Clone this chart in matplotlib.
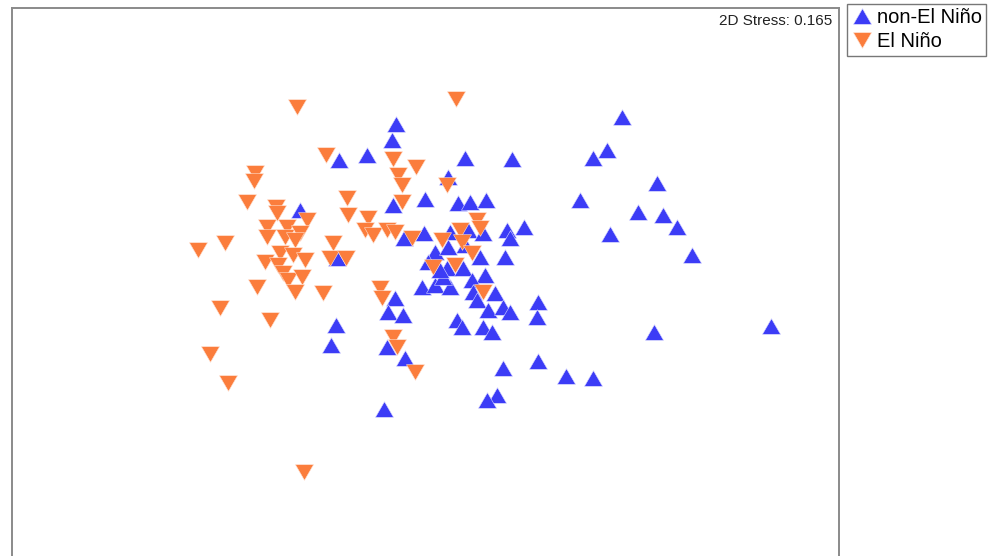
import matplotlib
matplotlib.use("Agg")
import matplotlib.pyplot as plt
import numpy as np

plt.rcParams['font.family'] = ['Liberation Sans', 'DejaVu Sans']

# NMDS scores, non-El Niño samples
non_el_nino_x = [-0.29, -0.33, -0.58, -0.86, 0.40, 0.87, 0.23, 0.00, -0.32, 0.33, 0.45, 0.61, -1.25,
                 1.97, 1.82, 1.68, 2.32, 1.55, 2.13, 2.38, 2.52, 1.85, 2.67, 3.46, 2.29,
                 -0.21, -0.01, 0.25, 0.43, 0.58, 0.82, 0.99, 0.85, 0.10, 0.23, 0.40, 0.55, 0.80,
                 0.03, 0.22, 0.38, 0.60, 0.47, -0.03, 0.10, 0.25, 0.18, 0.15,
                 0.48, 0.70, 0.52, 0.63, 0.78, 0.85, 1.13, 1.12, 0.32, 0.37, 0.58, 0.67,
                 -0.30, -0.37, -0.22, -0.88, -0.89, -0.94, -0.38, -0.20,
                 -0.41, 0.78, 0.72, 0.62, 1.13, 1.41, 1.68]
non_el_nino_y = [1.76, 1.60, 1.45, 1.40, 1.42, 1.41, 1.23, 1.01, 0.95, 0.97, 0.98, 1.00, 0.90,
                 1.83, 1.50, 1.42, 1.17, 1.00, 0.88, 0.85, 0.73, 0.66, 0.45, -0.26, -0.32,
                 0.62, 0.67, 0.68, 0.70, 0.67, 0.70, 0.73, 0.62, 0.48, 0.53, 0.55, 0.43, 0.43,
                 0.38, 0.32, 0.32, 0.25, 0.20, 0.13, 0.15, 0.13, 0.23, 0.30,
                 0.08, 0.07, 0.00, -0.10, -0.07, -0.12, -0.02, -0.17, -0.20, -0.27, -0.27, -0.32,
                 0.02, -0.12, -0.15, 0.42, -0.25, -0.45, -0.47, -0.58,
                 -1.09, -0.68, -0.95, -1.00, -0.61, -0.76, -0.78]

# NMDS scores, El Niño samples
el_nino_x = [-1.28, 0.31, -0.99, -0.32, -0.09, -0.27, -0.23, 0.22,
             -1.70, -1.71, -1.78, -1.49, -1.48, -0.23, -0.78, -0.77, -0.57, -1.18,
             -1.58, -1.58, -1.38, -1.40, -1.25, -1.30, -2.27, -2.00,
             -1.45, -1.60, -1.47, -1.32, -1.20, -1.42, -1.37, -1.23,
             -1.68, -1.30, -1.02, -2.05, -1.55, -0.92, -0.95, -0.79,
             -0.60, -0.52, -0.38, -0.30, -0.13, 0.17, 0.35, 0.37, 0.52, 0.55, 0.47,
             0.08, 0.30, 0.58, -0.45, -0.43, -0.32, -0.28, -0.10,
             -2.15, -1.97, -1.21]
el_nino_y = [1.93, 2.01, 1.45, 1.41, 1.33, 1.25, 1.15, 1.15,
             1.27, 1.19, 0.98, 0.93, 0.87, 0.98, 1.02, 0.85, 0.82, 0.80,
             0.73, 0.63, 0.73, 0.63, 0.67, 0.60, 0.50, 0.57,
             0.47, 0.38, 0.35, 0.45, 0.40, 0.27, 0.20, 0.23,
             0.13, 0.08, 0.07, -0.08, -0.20, 0.57, 0.42, 0.42,
             0.70, 0.65, 0.70, 0.68, 0.62, 0.60, 0.70, 0.58, 0.80, 0.72, 0.47,
             0.33, 0.35, 0.08, 0.12, 0.02, -0.37, -0.47, -0.72,
             -0.54, -0.83, -1.72]

group_labels = ["non-El Niño", "El Niño"]
stress = 0.165

blue = "#3C3CF6"
orange = "#FB7D3C"

# equilateral triangles, centred on their bounding box
up_tri = [(0, 0.866), (-1, -0.866), (1, -0.866), (0, 0.866)]
down_tri = [(0, -0.866), (-1, 0.866), (1, 0.866), (0, -0.866)]

W, H = 990, 556
fig = plt.figure(figsize=(W / 100, H / 100), dpi=100)
ax = fig.add_axes([12 / W, (H - 580) / H, 827 / W, 572 / H])

ms = 13.0
ax.plot(non_el_nino_x, non_el_nino_y, linestyle="none", marker=up_tri, markersize=ms,
        markerfacecolor=blue, markeredgecolor="#d8d8ff", markeredgewidth=0.4,
        label=group_labels[0])
ax.plot(el_nino_x, el_nino_y, linestyle="none", marker=down_tri, markersize=ms,
        markerfacecolor=orange, markeredgecolor="#ffe0d0", markeredgewidth=0.4,
        label=group_labels[1])

ax.set_xlim(-4.13, 4.14)
ax.set_ylim(-2.80, 2.92)
ax.set_xticks([])
ax.set_yticks([])
for sp in ax.spines.values():
    sp.set_color("#8a8a8a")
    sp.set_linewidth(1.4)

ax.text(0.992, 0.989, f"2D Stress: {stress}", transform=ax.transAxes,
        ha="right", va="top", fontsize=11, color="#222222")

leg = fig.legend(loc="upper left", bbox_to_anchor=(847 / W, 1 - 4 / H),
                 fontsize=14.5, frameon=True, fancybox=False, edgecolor="#555555",
                 borderpad=0.22, handletextpad=0.25, handlelength=1.0,
                 labelspacing=0.25, borderaxespad=0.0, markerscale=1.0)
leg.get_frame().set_linewidth(1.0)

fig.savefig("out.png", dpi=100)
